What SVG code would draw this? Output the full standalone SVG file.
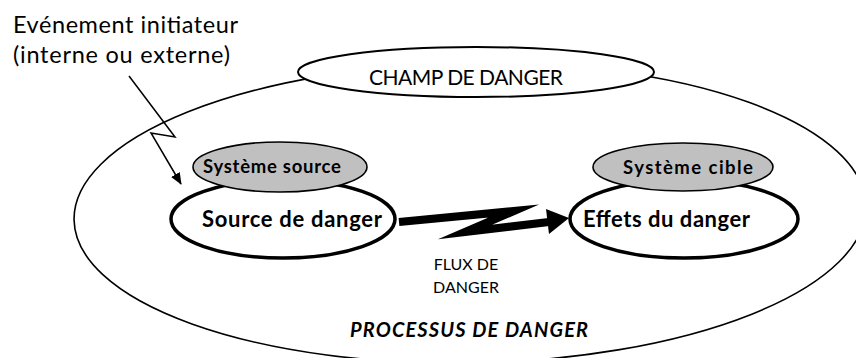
<svg xmlns="http://www.w3.org/2000/svg" width="856" height="358" viewBox="0 0 856 358">
  <style>
    text { font-family: Lato, "Liberation Sans", sans-serif; fill: #000; }
    .lbl { font-size: 23.5px; }
    .champ { font-size: 21px; }
    .sys { font-size: 18.5px; font-weight: bold; }
    .main { font-size: 22px; font-weight: bold; }
    .flux { font-size: 16px; }
    .proc { font-size: 20px; font-weight: bold; font-style: italic; }
    .outer { fill: none; stroke: #000; stroke-width: 1.6; }
    .field { fill: #fff; stroke: #000; stroke-width: 2; }
    .node { fill: #fff; stroke: #000; stroke-width: 3.5; }
    .sysshape { fill: #c0c0c0; stroke: #000; stroke-width: 1.6; }
  </style>
  <defs>
    <marker id="thinHead" viewBox="0 0 12 10" refX="11" refY="5" markerWidth="12" markerHeight="10" markerUnits="userSpaceOnUse" orient="auto">
      <path d="M0,0 L12,5 L0,10 Z" fill="#000"/>
    </marker>
  </defs>

  <rect width="856" height="358" fill="#fff"/>

  <!-- danger process boundary -->
  <g id="processus">
    <ellipse class="outer" cx="470" cy="213" rx="396" ry="150" transform="rotate(-1 470 213)"/>
    <text class="proc" x="350" y="337" textLength="238">PROCESSUS DE DANGER</text>
  </g>

  <!-- danger field -->
  <g id="champ">
    <ellipse class="field" cx="476" cy="72" rx="178" ry="25"/>
    <text class="champ" x="369" y="85" textLength="194">CHAMP DE DANGER</text>
  </g>

  <!-- initiating event label -->
  <g id="evenement">
    <text class="lbl" x="13" y="33" textLength="225">Evénement initiateur</text>
    <text class="lbl" x="13" y="63" textLength="217">(interne ou externe)</text>
  </g>

  <!-- source node -->
  <g id="source">
    <ellipse class="node" cx="283" cy="219" rx="112" ry="39"/>
    <ellipse class="sysshape" cx="280" cy="167" rx="87" ry="25"/>
    <text class="sys" x="203" y="173" textLength="138">Système source</text>
    <text class="main" x="202" y="227" textLength="180">Source de danger</text>
  </g>

  <!-- target node -->
  <g id="cible">
    <ellipse class="node" cx="684" cy="219" rx="114" ry="39"/>
    <ellipse class="sysshape" cx="683" cy="167" rx="90" ry="24"/>
    <text class="sys" x="623" y="174" textLength="130">Système cible</text>
    <text class="main" x="583" y="227" textLength="167">Effets du danger</text>
  </g>

  <!-- flux label -->
  <g id="flux">
    <text class="flux" x="466" y="270" text-anchor="middle">FLUX DE</text>
    <text class="flux" x="466" y="293" text-anchor="middle">DANGER</text>
  </g>

  <!-- connectors -->
  <g id="connectors">
    <polyline points="129,76 175,137 151,133 181,184" fill="none" stroke="#000" stroke-width="1.5" stroke-linejoin="miter" marker-end="url(#thinHead)"/>
    <polyline points="399,222 514,211 465,232 549,222" fill="none" stroke="#000" stroke-width="8" stroke-linejoin="miter" stroke-miterlimit="10"/>
    <polygon points="546,209 569,218 549,234" fill="#000"/>
  </g>
</svg>
